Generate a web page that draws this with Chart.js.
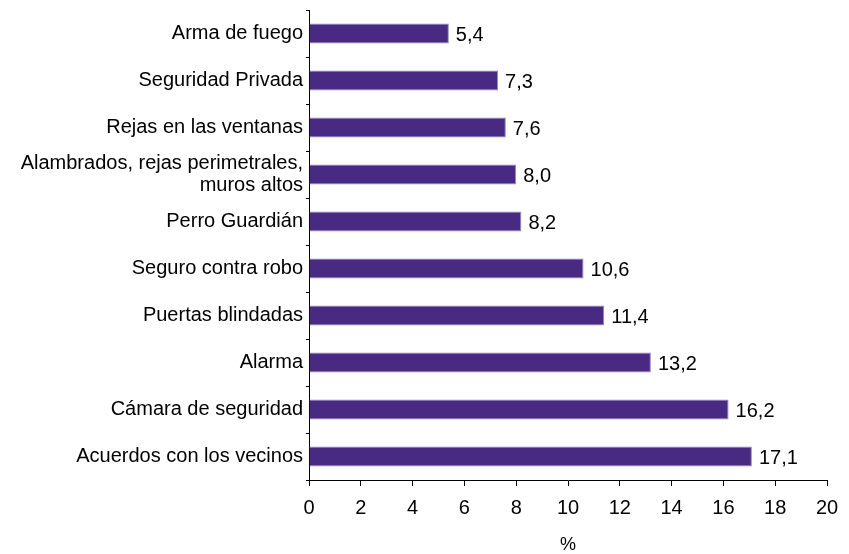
<!DOCTYPE html>
<html>
<head>
<meta charset="utf-8">
<script src="https://cdn.jsdelivr.net/npm/chart.js@4"></script>
<style>
    html, body { margin: 0; padding: 0; background: #fff; }
    #wrap { width: 849px; height: 554px; }
</style>
</head>
<body>
<div id="wrap"><canvas id="chart" width="849" height="554"></canvas></div>
<script>
// Data
const categories = [
    'Arma de fuego',
    'Seguridad Privada',
    'Rejas en las ventanas',
    ['Alambrados, rejas perimetrales,', 'muros altos'],
    'Perro Guardián',
    'Seguro contra robo',
    'Puertas blindadas',
    'Alarma',
    'Cámara de seguridad',
    'Acuerdos con los vecinos'
];
const values = [5.4, 7.3, 7.6, 8.0, 8.2, 10.6, 11.4, 13.2, 16.2, 17.1];
const xTicks = [0, 2, 4, 6, 8, 10, 12, 14, 16, 18, 20];

const FONT = '"Liberation Sans", Arial, Helvetica, sans-serif';
const FONT_SIZE = 20;

// Value labels at the end of each bar
const valueLabels = {
    id: 'valueLabels',
    afterDatasetsDraw(chart) {
        const ctx = chart.ctx;
        const meta = chart.getDatasetMeta(0);
        ctx.save();
        ctx.font = FONT_SIZE + 'px ' + FONT;
        ctx.fillStyle = '#000';
        ctx.textAlign = 'left';
        ctx.textBaseline = 'middle';
        meta.data.forEach((bar, i) => {
            const txt = values[i].toFixed(1).replace('.', ',');
            ctx.fillText(txt, bar.x + 7, bar.y + 2);
        });
        ctx.restore();
    }
};

const ctx = document.getElementById('chart').getContext('2d');
new Chart(ctx, {
    type: 'bar',
    data: {
        labels: categories,
        datasets: [{
            data: values,
            backgroundColor: '#482a82',
            borderColor: '#9a86c4',
            borderWidth: 1,
            barPercentage: 0.43,
            categoryPercentage: 1.0
        }]
    },
    options: {
        indexAxis: 'y',
        responsive: false,
        animation: false,
        layout: { padding: { top: 10, right: 22, left: 0, bottom: 0 } },
        plugins: {
            legend: { display: false },
            tooltip: { enabled: false }
        },
        scales: {
            x: {
                min: 0,
                max: 20,
                afterBuildTicks: scale => {
                    scale.ticks = xTicks.map(v => ({ value: v }));
                },
                afterFit: scale => { scale.height = 74; },
                grid: {
                    drawOnChartArea: false,
                    drawTicks: true,
                    tickLength: 6,
                    color: '#000'
                },
                border: { color: '#000', width: 1 },
                ticks: {
                    color: '#000',
                    font: { family: FONT, size: FONT_SIZE },
                    padding: 10,
                    autoSkip: false,
                    maxRotation: 0
                },
                title: {
                    display: true,
                    text: '%',
                    color: '#000',
                    font: { family: FONT, size: 18, lineHeight: 1 },
                    padding: { top: 0, bottom: 0 }
                }
            },
            y: {
                afterFit: scale => {
                    scale.width = 309;
                    scale.paddingTop = 0;
                    scale.paddingBottom = 0;
                },
                grid: {
                    drawOnChartArea: false,
                    drawTicks: true,
                    tickLength: 3,
                    offset: true,
                    color: '#000'
                },
                border: { color: '#000', width: 1 },
                ticks: {
                    color: '#000',
                    font: { family: FONT, size: FONT_SIZE, lineHeight: 1.1 },
                    padding: 3,
                    autoSkip: false
                }
            }
        }
    },
    plugins: [valueLabels]
});
</script>
</body>
</html>
